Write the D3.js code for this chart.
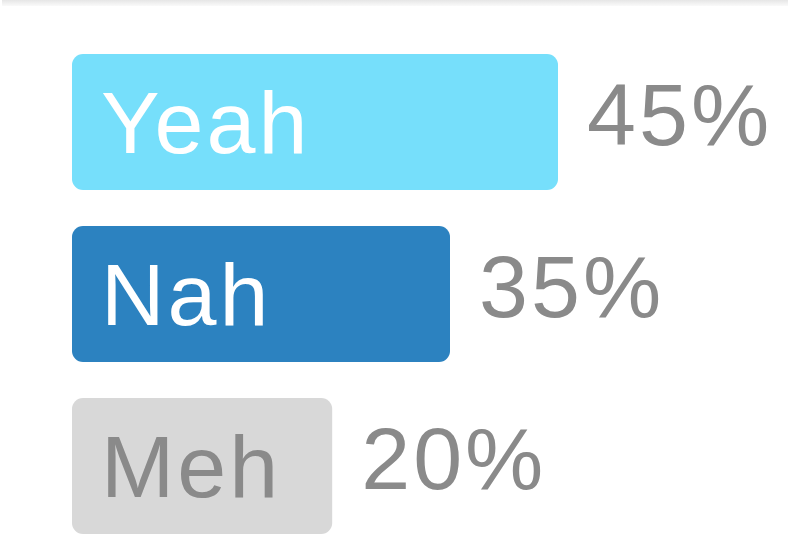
<!DOCTYPE html>
<html>
<head>
<meta charset="utf-8">
<script src="https://cdn.jsdelivr.net/npm/d3@7"></script>
<style>
  html, body { margin: 0; padding: 0; background: #fff; }
  svg { display: block; }
</style>
</head>
<body>
<svg id="chart"></svg>
<script>
// poll answers
var labels = ["Yeah", "Nah", "Meh"];
var values = [45, 35, 20];
var colors = ["#76dffb", "#2c82c0", "#d8d8d8"];
var textColors = ["#ffffff", "#ffffff", "#8a8a8a"];

var W = 792, H = 534;
var marginLeft = 72, marginTop = 54, barH = 136, step = 172;

var svg = d3.select("#chart")
    .attr("width", W)
    .attr("height", H)
    .style("font-family", "'Liberation Sans', Helvetica, Arial, sans-serif");

// faint shadow edge of the card above
var defs = svg.append("defs");
var grad = defs.append("linearGradient")
    .attr("id", "edge")
    .attr("x1", 0).attr("y1", 0).attr("x2", 0).attr("y2", 1);
grad.append("stop").attr("offset", "0%").attr("stop-color", "#e6e6e6");
grad.append("stop").attr("offset", "100%").attr("stop-color", "#fafafa");

svg.append("rect")
    .attr("x", 2)
    .attr("y", 0)
    .attr("width", 786)
    .attr("height", 6)
    .attr("fill", "url(#edge)");

var x = d3.scaleLinear()
    .domain([0, d3.max(values)])
    .range([0, 486]);

var y = d3.scaleBand()
    .domain(labels)
    .range([marginTop, marginTop + step * (labels.length - 1) + barH])
    .paddingInner((step - barH) / step)
    .paddingOuter(0);

var rows = svg.selectAll("g.row")
    .data(labels)
    .enter()
    .append("g")
    .attr("class", "row")
    .attr("transform", function(d) { return "translate(" + marginLeft + "," + y(d) + ")"; });

// labels first so the bar can be wide enough for them
var names = rows.append("text")
    .attr("x", 29)
    .attr("y", 99)
    .attr("font-size", 88)
    .attr("letter-spacing", 3)
    .attr("fill", function(d, i) { return textColors[i]; })
    .text(function(d) { return d; });

var widths = [];
names.each(function(d, i) {
    var tw = this.getComputedTextLength();
    widths[i] = Math.max(x(values[i]), tw + 80);
});

rows.insert("rect", "text")
    .attr("x", 0)
    .attr("y", 0)
    .attr("width", function(d, i) { return widths[i]; })
    .attr("height", y.bandwidth())
    .attr("rx", 11)
    .attr("fill", function(d, i) { return colors[i]; });

rows.append("text")
    .attr("x", function(d, i) { return widths[i] + 29; })
    .attr("y", 91)
    .attr("font-size", 88)
    .attr("letter-spacing", 3)
    .attr("fill", "#8a8a8a")
    .text(function(d, i) { return values[i] + "%"; });
</script>
</body>
</html>
